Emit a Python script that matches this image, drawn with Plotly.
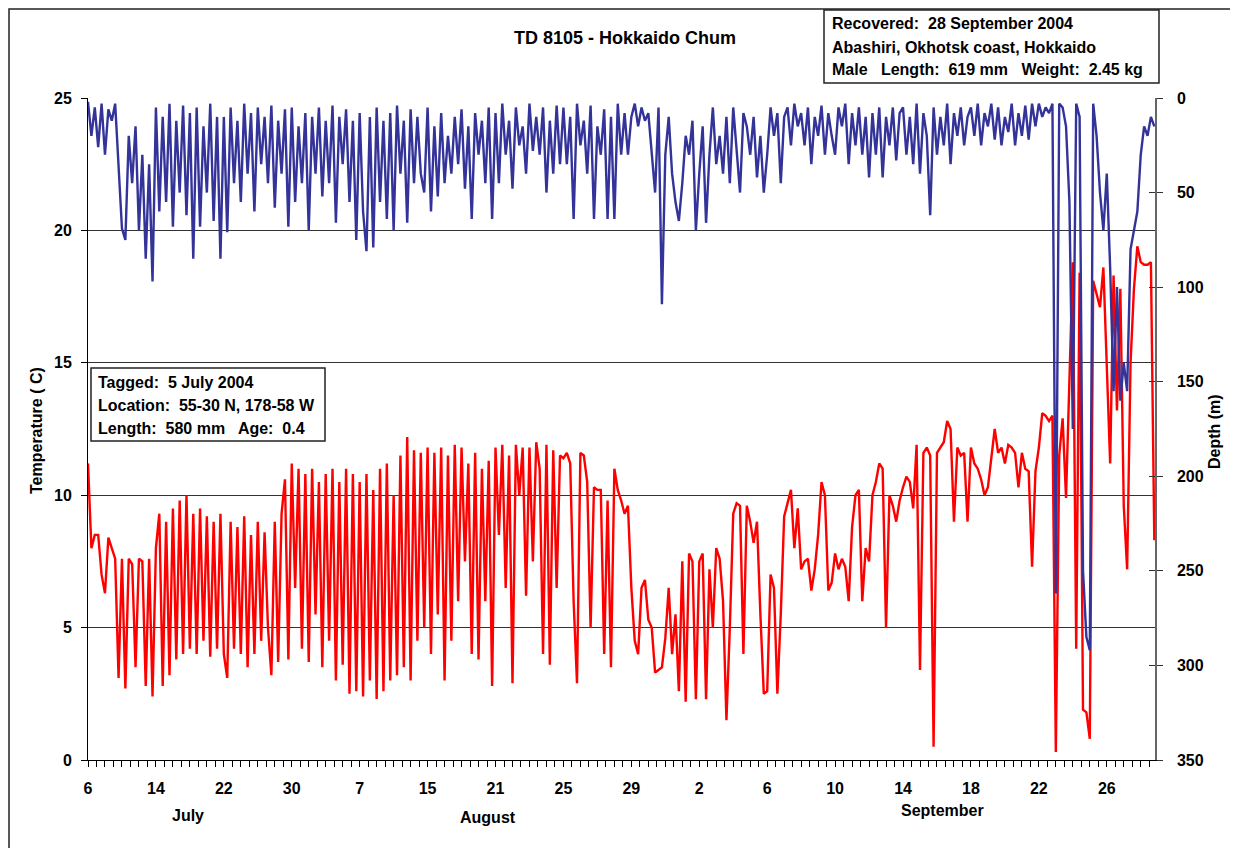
import plotly.graph_objects as go

# ---------------- data ----------------
# x axis is a category-like sample axis: one unit = one labelled tick interval,
# samples every 1/20 of an interval.
SAMPLE_STEP = 0.05

day_labels = ["6", "14", "22", "30", "7", "15", "21", "25", "29",
              "2", "6", "10", "14", "18", "22", "26"]
month_labels = ["July", "August", "September"]

temperature = [
    # Jul 6-14
    11.2, 8.0, 8.5, 8.5, 7.0, 6.3, 8.4, 8.0, 7.6, 3.1, 7.6, 2.7, 7.6, 7.4, 3.5, 7.6, 7.5, 2.8, 7.6, 2.4,
    # Jul 14-22
    8.0, 9.3, 2.8, 9.0, 3.2, 9.5, 3.8, 9.8, 4.0, 10.0, 4.2, 9.3, 4.0, 9.5, 4.5, 9.2, 3.9, 9.0, 4.2, 9.3,
    # Jul 22-30
    4.0, 3.1, 9.0, 4.2, 8.8, 4.0, 9.2, 3.5, 8.5, 4.0, 9.0, 4.5, 8.6, 5.0, 3.2, 9.0, 3.7, 9.3, 10.6, 3.8,
    # Jul 30-Aug 7
    11.2, 6.5, 11.0, 4.2, 10.8, 3.7, 11.0, 5.5, 10.5, 3.5, 10.8, 4.5, 11.0, 3.0, 10.5, 3.6, 11.0, 2.5, 10.8, 2.6,
    # Aug 7-15
    10.5, 2.4, 10.8, 3.0, 10.2, 2.3, 11.0, 2.6, 11.2, 3.0, 10.0, 3.2, 11.5, 3.5, 12.2, 3.0, 11.7, 4.5, 11.6, 5.0,
    # Aug 15-21
    11.8, 4.0, 11.6, 5.5, 11.8, 3.0, 11.5, 4.5, 11.9, 6.0, 11.8, 7.5, 11.2, 4.0, 11.6, 3.8, 11.0, 6.0, 11.3, 2.8,
    # Aug 21-25
    11.8, 8.5, 11.9, 6.5, 11.5, 2.9, 11.9, 10.0, 11.8, 6.2, 11.8, 7.5, 12.0, 11.0, 4.0, 11.9, 3.6, 11.7, 6.5, 11.5,
    # Aug 25-29
    11.4, 11.6, 11.2, 6.0, 2.9, 11.6, 11.5, 10.5, 5.0, 10.3, 10.2, 10.2, 4.0, 9.8, 3.5, 11.0, 10.2, 9.8, 9.3, 9.6,
    # Aug 29-Sep 2
    6.5, 4.5, 4.0, 6.5, 6.8, 5.3, 5.0, 3.3, 3.4, 3.5, 4.6, 6.5, 4.0, 5.5, 2.6, 7.5, 2.2, 7.8, 7.5, 2.3,
    # Sep 2-6
    7.5, 7.8, 2.3, 7.2, 5.0, 8.0, 7.6, 6.0, 1.5, 5.0, 9.3, 9.7, 9.6, 4.0, 9.6, 9.0, 8.2, 9.0, 5.5, 2.5,
    # Sep 6-10
    2.6, 7.0, 6.5, 2.5, 5.5, 9.2, 9.7, 10.2, 8.0, 9.5, 7.2, 7.5, 7.6, 6.4, 7.2, 8.5, 10.5, 10.0, 6.4, 6.7,
    # Sep 10-14
    7.8, 7.2, 7.6, 7.3, 6.0, 8.8, 10.0, 10.2, 6.0, 8.0, 7.5, 10.0, 10.5, 11.2, 11.0, 5.0, 10.0, 9.6, 9.0, 9.8,
    # Sep 14-18
    10.3, 10.7, 10.5, 9.5, 11.9, 3.4, 11.6, 11.8, 11.5, 0.5, 11.6, 11.8, 12.0, 12.8, 12.5, 9.0, 11.8, 11.5, 11.6, 9.0,
    # Sep 18-22
    11.8, 11.2, 11.0, 10.6, 10.0, 10.3, 11.5, 12.5, 11.6, 11.8, 11.2, 11.9, 11.8, 11.6, 10.3, 11.6, 11.0, 10.9, 7.3, 10.9,
    # Sep 22-26
    11.8, 13.1, 13.0, 12.8, 13.0, 0.3, 11.5, 12.9, 9.9, 14.6, 18.8, 4.2, 18.4, 1.9, 1.8, 0.8, 18.1, 17.6, 17.1, 18.6,
    # Sep 26-end
    14.5, 11.2, 18.3, 13.2, 17.8, 9.6, 7.2, 15.0, 17.8, 19.4, 18.8, 18.7, 18.7, 18.8, 8.3,
]

depth = [
    # Jul 6-14
    2, 20, 5, 26, 3, 30, 6, 12, 3, 40, 69, 75, 20, 45, 15, 70, 30, 85, 35, 97,
    # Jul 14-22
    5, 60, 10, 55, 3, 68, 12, 50, 4, 62, 8, 85, 5, 68, 15, 50, 3, 65, 10, 85,
    # Jul 22-30
    10, 71, 5, 45, 12, 55, 3, 40, 8, 60, 5, 35, 10, 45, 4, 58, 12, 40, 6, 68,
    # Jul 30-Aug 7
    5, 55, 15, 45, 8, 70, 10, 40, 5, 52, 12, 45, 4, 66, 10, 35, 6, 55, 12, 75,
    # Aug 7-15
    8, 60, 81, 10, 79, 5, 55, 12, 64, 8, 70, 4, 40, 12, 66, 6, 45, 10, 40, 50,
    # Aug 15-21
    5, 60, 15, 52, 8, 45, 20, 40, 10, 35, 6, 48, 15, 64, 8, 30, 12, 45, 5, 64,
    # Aug 21-25
    8, 45, 3, 30, 12, 48, 5, 25, 15, 40, 3, 28, 10, 30, 5, 50, 12, 40, 4, 35,
    # Aug 25-29
    5, 35, 10, 64, 3, 25, 12, 40, 4, 64, 15, 30, 6, 64, 10, 64, 3, 30, 8, 30,
    # Aug 29-Sep 2
    10, 3, 15, 5, 12, 8, 30, 50, 5, 109, 30, 10, 40, 55, 65, 45, 20, 30, 12, 70,
    # Sep 2-6
    40, 15, 66, 30, 5, 35, 20, 40, 10, 45, 5, 30, 50, 8, 15, 30, 10, 42, 20, 50,
    # Sep 6-10
    30, 5, 20, 8, 45, 10, 5, 25, 3, 15, 8, 25, 5, 35, 10, 20, 4, 30, 8, 20,
    # Sep 10-14
    30, 5, 15, 3, 35, 8, 25, 5, 30, 10, 42, 8, 30, 5, 42, 10, 25, 5, 33, 8,
    # Sep 14-18
    5, 30, 10, 35, 3, 40, 8, 20, 62, 5, 30, 10, 25, 3, 35, 8, 20, 5, 25, 10,
    # Sep 18-22
    5, 20, 3, 25, 8, 15, 3, 22, 5, 25, 10, 18, 3, 25, 8, 20, 4, 22, 3, 15,
    # Sep 22-26
    3, 10, 5, 8, 3, 262, 3, 5, 15, 55, 175, 3, 10, 250, 285, 292, 3, 20, 50, 70,
    # Sep 26-end
    40, 90, 155, 100, 160, 140, 155, 80, 70, 60, 30, 15, 20, 10, 15,
]

temp_ticks = [0, 5, 10, 15, 20, 25]
depth_ticks = [0, 50, 100, 150, 200, 250, 300, 350]

tagged_lines = ["Tagged:\u00a0 5 July 2004",
                "Location:\u00a0 55-30 N, 178-58 W",
                "Length:\u00a0 580 mm \u00a0 Age:\u00a0 0.4"]
recovered_lines = ["Recovered:\u00a0 28 September 2004",
                   "Abashiri, Okhotsk coast, Hokkaido",
                   "Male \u00a0 Length:\u00a0 619 mm \u00a0 Weight:\u00a0 2.45 kg"]

# ---------------- layout geometry ----------------
# The page body has an 8px default margin, so figure coordinates are the
# screenshot coordinates minus 8.
OFF = 8
W, H = 1238 - OFF, 848 - OFF
PL, PR, PT, PB = 88 - OFF, 1155 - OFF, 98 - OFF, 760 - OFF
X_END = 15.71
FONT = "Liberation Sans, Arial, sans-serif"


def px(x):
    """screenshot x -> paper x"""
    return (x - OFF - PL) / (PR - PL)


def py(y):
    """screenshot y -> paper y"""
    return (PB - (y - OFF)) / (PB - PT)


x_t = [i * SAMPLE_STEP for i in range(len(temperature))]
x_d = [i * SAMPLE_STEP for i in range(len(depth))]

fig = go.Figure()
fig.add_trace(go.Scatter(x=x_t, y=temperature, mode="lines", yaxis="y",
                         line=dict(color="#FF0000", width=2.4),
                         showlegend=False, hoverinfo="skip"))
fig.add_trace(go.Scatter(x=x_d, y=depth, mode="lines", yaxis="y2",
                         line=dict(color="#333399", width=2.4),
                         showlegend=False, hoverinfo="skip"))
fig.add_trace(go.Scatter(x=[], y=[], yaxis="y3", showlegend=False))

bold16 = dict(family=FONT, size=16, color="black", weight="bold")

minor_vals = [i * 0.125 for i in range(int(X_END / 0.125) + 1)]

fig.update_layout(
    width=W, height=H,
    margin=dict(l=PL, r=W - PR, t=PT, b=H - PB),
    paper_bgcolor="white", plot_bgcolor="white",
    font=dict(family=FONT, color="black"),
    title=dict(text="<b>TD 8105 - Hokkaido Chum</b>",
               x=(625 - OFF) / W, xref="container", xanchor="center",
               y=1 - (38 - OFF) / H, yref="container", yanchor="middle",
               font=dict(family=FONT, size=18, color="black")),
    xaxis=dict(range=[0, X_END], tickmode="array",
               tickvals=list(range(len(day_labels))), ticktext=day_labels,
               ticks="outside", ticklen=6, tickcolor="black", tickwidth=1,
               showline=True, linecolor="black", linewidth=1,
               showgrid=False, zeroline=False, tickfont=bold16,
               ticklabelstandoff=8,
               minor=dict(tickmode="array", tickvals=minor_vals, ticks="outside",
                          ticklen=6, tickcolor="black", tickwidth=1, showgrid=False)),
    yaxis=dict(range=[0, 25], tickmode="array", tickvals=temp_ticks,
               ticks="outside", ticklen=6, tickcolor="black",
               showline=True, linecolor="black", linewidth=1,
               showgrid=True, gridcolor="#333333", gridwidth=1,
               zeroline=False, tickfont=bold16, ticklabelstandoff=6),
    yaxis2=dict(range=[350, 0], overlaying="y", side="right", anchor="x",
                tickmode="array", tickvals=depth_ticks,
                ticks="outside", ticklen=6, tickcolor="#333333",
                showline=True, linecolor="#666666", linewidth=1.5,
                showgrid=False, zeroline=False, tickfont=bold16,
                ticklabelstandoff=11),
    yaxis3=dict(range=[350, 0], overlaying="y", side="right", anchor="x",
                tickmode="array", tickvals=depth_ticks,
                ticks="inside", ticklen=6, tickcolor="#333333",
                showline=False, showgrid=False, zeroline=False,
                showticklabels=False),
)

shapes = [
    # outer chart frame (as close to the page edge as the figure allows)
    dict(type="rect", xref="paper", yref="paper",
         x0=px(9), y0=py(900), x1=px(1300), y1=py(9),
         line=dict(color="#222222", width=1.5), fillcolor="rgba(0,0,0,0)", layer="above"),
    # tagged box
    dict(type="rect", xref="paper", yref="paper",
         x0=px(91), y0=py(441), x1=px(325), y1=py(368),
         line=dict(color="#222222", width=1.5), fillcolor="white", layer="above"),
    # recovered box
    dict(type="rect", xref="paper", yref="paper",
         x0=px(824), y0=py(83), x1=px(1159), y1=py(10),
         line=dict(color="#222222", width=1.5), fillcolor="white", layer="above"),
]

annotations = []
for txt, yy in zip(tagged_lines, [382, 405, 428]):
    annotations.append(dict(text="<b>%s</b>" % txt, x=px(96), y=py(yy),
                            xref="paper", yref="paper", xanchor="left", yanchor="middle",
                            showarrow=False, font=dict(family=FONT, size=16, color="black")))
for txt, yy in zip(recovered_lines, [24, 47, 70]):
    annotations.append(dict(text="<b>%s</b>" % txt, x=px(830), y=py(yy),
                            xref="paper", yref="paper", xanchor="left", yanchor="middle",
                            showarrow=False, font=dict(family=FONT, size=16, color="black")))
for txt, xx, yy in zip(month_labels, [188, 488, 942], [815, 817, 810]):
    annotations.append(dict(text="<b>%s</b>" % txt, x=px(xx), y=py(yy),
                            xref="paper", yref="paper", xanchor="center", yanchor="middle",
                            showarrow=False, font=dict(family=FONT, size=16, color="black")))
annotations.append(dict(text="<b>Temperature ( C)</b>", x=px(36), y=py(431), textangle=-90,
                        xref="paper", yref="paper", xanchor="center", yanchor="middle",
                        showarrow=False, font=dict(family=FONT, size=16, color="black")))
annotations.append(dict(text="<b>Depth (m)</b>", x=px(1214), y=py(432), textangle=-90,
                        xref="paper", yref="paper", xanchor="center", yanchor="middle",
                        showarrow=False, font=dict(family=FONT, size=16, color="black")))

fig.update_layout(shapes=shapes, annotations=annotations)

fig.write_html("out.html")
